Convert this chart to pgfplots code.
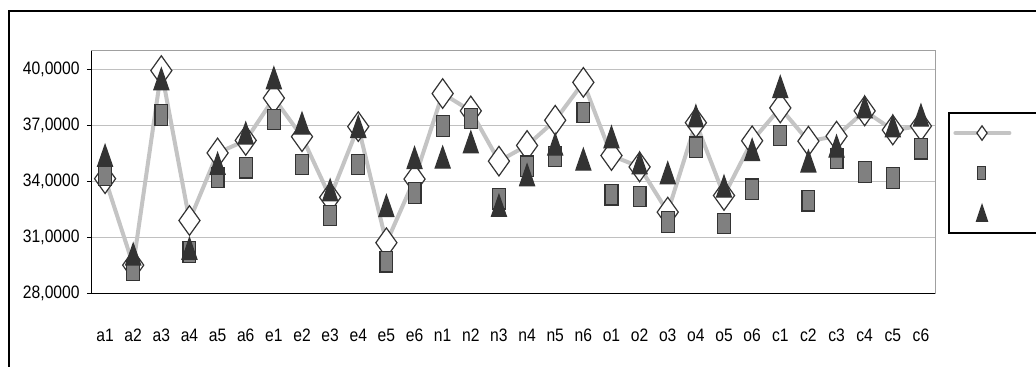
\documentclass[border=0pt]{standalone}
\usepackage{fontspec}
\setmainfont{Liberation Sans}[FakeStretch=0.87]
\usepackage{pgfplots}
\usepackage{pgfplotstable}
\pgfplotsset{compat=1.18}
\definecolor{lineGray}{HTML}{C4C4C4}
\definecolor{gridGray}{HTML}{C0C0C0}
\definecolor{borderGray}{HTML}{A0A0A0}
\definecolor{sqFill}{HTML}{808080}
\definecolor{markDark}{HTML}{333333}
\definecolor{triFill}{HTML}{333333}

\pgfplotstableread{
x D S T
0 34.16 34.33 35.40
1 29.53 29.26 30.12
2 39.95 37.57 39.50
3 31.92 30.23 30.42
4 35.54 34.23 34.97
5 36.21 34.74 36.60
6 38.48 37.32 39.56
7 36.41 34.92 37.13
8 33.16 32.19 33.55
9 36.95 34.92 36.95
10 30.73 29.71 32.71
11 34.14 33.39 35.28
12 38.72 36.98 35.31
13 37.79 37.39 36.12
14 35.10 33.08 32.72
15 35.94 34.83 34.36
16 37.29 35.35 36.00
17 39.32 37.70 35.20
18 35.40 33.30 36.39
19 34.79 33.20 35.00
20 32.37 31.84 34.47
21 37.16 35.85 37.52
22 33.26 31.75 33.75
23 36.19 33.60 35.71
24 37.95 36.48 39.08
25 36.17 32.98 35.10
26 36.44 35.24 35.90
27 37.79 34.52 38.00
28 36.77 34.20 36.98
29 36.98 35.76 37.56
}\data

\begin{document}
\begin{tikzpicture}
\path[use as bounding box] (0,0) rectangle (518pt,183.5pt);
\fill[white] (0,0) rectangle (518pt,183.5pt);
\draw[black, line width=1pt] (4.5pt,-5pt) -- (4.5pt,178pt) -- (530pt,178pt);
\begin{axis}[
  scale only axis, width=422pt, height=121.35pt,
  at={(45.5pt,36.65pt)}, anchor=south west,
  xmin=-0.5, xmax=29.5, ymin=28, ymax=41,
  axis line style={borderGray, line width=0.5pt},
  ymajorgrids=true,
  major grid style={gridGray, line width=0.5pt},
  ytick={28,31,34,37,40},
  yticklabels={{28,0000},{31,0000},{34,0000},{37,0000},{40,0000}},
  xtick=\empty,
  minor xtick={-0.5,0.5,...,29.5},
  extra x ticks={0,1,...,29},
  extra x tick labels={a1,a2,a3,a4,a5,a6,e1,e2,e3,e4,e5,e6,n1,n2,n3,n4,n5,n6,o1,o2,o3,o4,o5,o6,c1,c2,c3,c4,c5,c6},
  extra x tick style={tick style={draw=none}},
  tick align=outside,
  xtick pos=left, ytick pos=left,
  major tick length=2pt, minor tick length=4.3pt,
  tick style={black, line width=0.6pt},
  ticklabel style={font=\fontsize{9pt}{10pt}\selectfont},
  xticklabel style={anchor=base, inner sep=0pt, yshift=-22pt},
  yticklabel style={anchor=east, inner sep=0pt, xshift=-3.5pt},
  legend style={at={(1.0157,0.7474)}, anchor=north west, draw=black, line width=0.75pt,
    inner xsep=2.2pt, inner ysep=5pt, row sep=10pt, column sep=0pt,
    nodes={inner sep=0pt}},
]
\addplot[lineGray, line width=2pt,
  mark=diamond*, mark size=7.4pt,
  mark options={draw=markDark, fill=white, line width=0.6pt, xscale=0.95, solid},
  legend image code/.code={
    \path[draw=none, fill=none] (0pt,-5pt) rectangle (27pt,5pt);
    \draw[lineGray, line width=2pt, line cap=round] (0pt,0pt) -- (27pt,0pt);
    \draw[only marks, mark=diamond*, mark size=3.6pt,
      mark options={draw=markDark, fill=white, line width=0.6pt, xscale=0.95}]
      plot coordinates {(13.3pt,0pt)};
  }] table[x=x, y=D] {\data};
\addlegendentry{\hspace*{11.9pt}}
\addplot[only marks,
  mark=square*, mark size=5.1pt,
  mark options={draw=markDark, fill=sqFill, line width=0.6pt, xscale=0.63},
  legend image code/.code={
    \path[draw=none, fill=none] (0pt,-5pt) rectangle (27pt,5pt);
    \draw[only marks, mark=square*, mark size=3.3pt,
      mark options={draw=markDark, fill=sqFill, line width=0.6pt, xscale=0.64}]
      plot coordinates {(13.05pt,0pt)};
  }] table[x=x, y=S] {\data};
\addlegendentry{\hspace*{11.9pt}}
\addplot[only marks,
  mark=triangle*, mark size=7.2pt,
  mark options={draw=triFill, fill=triFill, line width=0.6pt, yshift=-1.8pt, xscale=0.6},
  legend image code/.code={
    \path[draw=none, fill=none] (0pt,-5pt) rectangle (27pt,5pt);
    \draw[only marks, mark=triangle*, mark size=5.5pt,
      mark options={draw=triFill, fill=triFill, line width=0.6pt, yshift=-1.4pt, xscale=0.58}]
      plot coordinates {(13.3pt,0pt)};
  }] table[x=x, y=T] {\data};
\addlegendentry{\hspace*{11.9pt}}
\draw[black, line width=0.6pt] (rel axis cs:0,1) -- (rel axis cs:0,0) -- (rel axis cs:1,0);
\end{axis}
\end{tikzpicture}
\end{document}
